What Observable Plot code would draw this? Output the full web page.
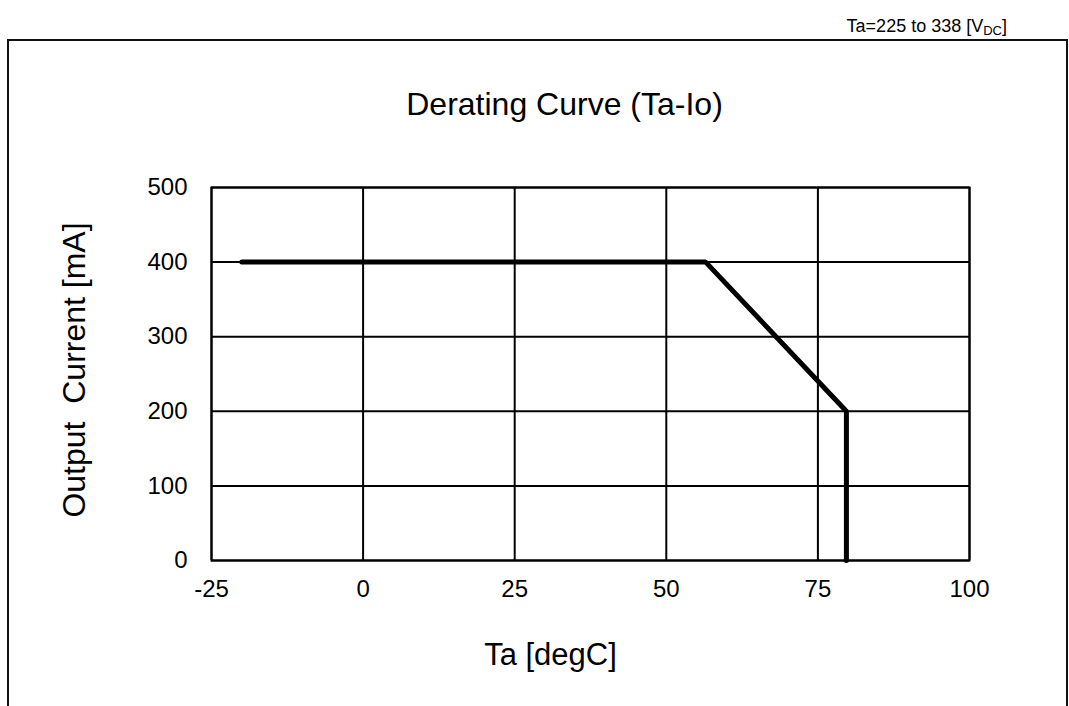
<!DOCTYPE html>
<html>
<head>
<meta charset="utf-8">
<script src="https://cdn.jsdelivr.net/npm/d3@7"></script>
<script src="https://cdn.jsdelivr.net/npm/@observablehq/plot@0.6"></script>
<style>
  html, body { margin: 0; padding: 0; background: #fff; }
  body { width: 1069px; height: 706px; position: relative; overflow: hidden; font-family: "Liberation Sans", Arial, sans-serif; }
  #box { position: absolute; left: 7px; top: 39px; width: 1057px; height: 700px; border: 2px solid #111; border-bottom: none; }
  #sub { position: absolute; right: 62px; top: 16px; font-size: 18px; color: #000; }
  #sub sub { font-size: 13px; vertical-align: -3px; }
  #chart { position: absolute; left: 0; top: 0; }
</style>
</head>
<body>
<div id="box"></div>
<div id="sub">Ta=225 to 338 [V<sub>DC</sub>]</div>
<div id="chart"></div>
<script>
// Data
const ta = [-20, 56.5, 79.7, 79.7];      // ambient temperature [degC]
const io = [400, 400, 200, 0];           // output current [mA]
const xTicks = [-25, 0, 25, 50, 75, 100];
const yTicks = [0, 100, 200, 300, 400, 500];
const title = "Derating Curve (Ta-Io)";
const xLabel = "Ta [degC]";
const yLabel = "Output\u00a0 Current [mA]";

const points = ta.map((t, i) => ({ta: t, io: io[i]}));

const chart = Plot.plot({
  width: 1069,
  height: 706,
  marginLeft: 211,
  marginRight: 100,
  marginTop: 187,
  marginBottom: 146,
  style: { fontFamily: "'Liberation Sans', Arial, sans-serif", background: "transparent", color: "#000" },
  x: { domain: [-25, 100] },
  y: { domain: [0, 500] },
  marks: [
    Plot.gridX(xTicks, { stroke: "#000", strokeOpacity: 1, strokeWidth: 2 }),
    Plot.gridY(yTicks, { stroke: "#000", strokeOpacity: 1, strokeWidth: 2 }),
    Plot.frame({ stroke: "#000", strokeWidth: 2 }),
    Plot.axisX({ ticks: xTicks, tickSize: 0, tickPadding: 19, fontSize: 24, tickFormat: d => String(d).replace("\u2212", "-"),
      label: null }),
    Plot.axisY({ ticks: yTicks, tickSize: 0, tickPadding: 24, fontSize: 24, label: null }),
    Plot.text([xLabel], { frameAnchor: "bottom", dx: -40, dy: 104, fontSize: 31, fill: "#000" }),
    Plot.text([yLabel], { frameAnchor: "left", dx: -137, dy: -4, rotate: -90, textAnchor: "middle", fontSize: 32, fill: "#000" }),
    Plot.text([title], { frameAnchor: "top", dx: -26, dy: -95, fontSize: 32, fill: "#000" }),
    Plot.line(points, { x: "ta", y: "io", stroke: "#000", strokeWidth: 5, strokeLinejoin: "miter" })
  ]
});
document.getElementById("chart").appendChild(chart);
</script>
</body>
</html>
